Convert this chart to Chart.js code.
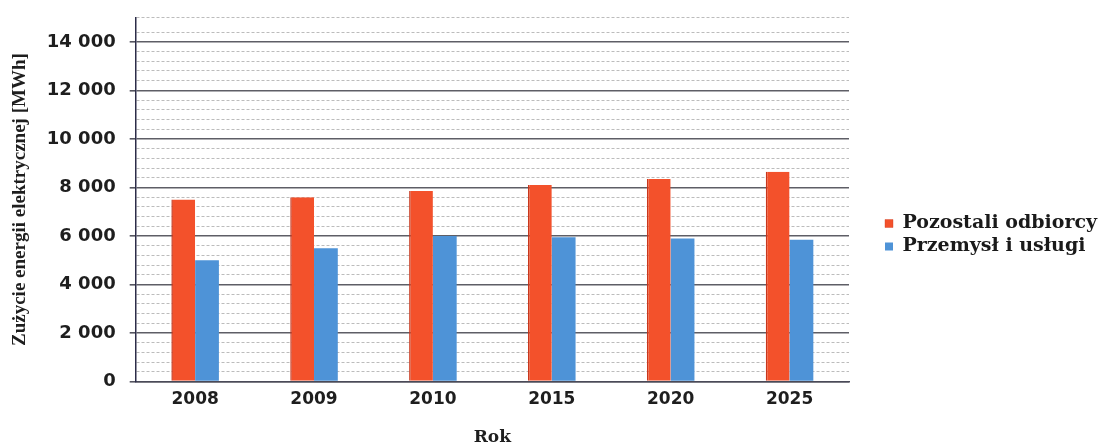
<!DOCTYPE html>
<html>
<head>
<meta charset="utf-8">
<script src="https://cdn.jsdelivr.net/npm/chart.js@4.4.1/dist/chart.umd.min.js"></script>
<style>
  html, body { margin: 0; padding: 0; background: #ffffff; }
  #wrap { width: 1100px; height: 446px; position: relative; }
</style>
</head>
<body>
<div id="wrap"><canvas id="c" width="1100" height="446"></canvas></div>
<script>
const categories = ['2008', '2009', '2010', '2015', '2020', '2025'];
const pozostaliOdbiorcy = [7500, 7600, 7850, 8100, 8350, 8650];
const przemyslIUslugi = [5000, 5500, 6000, 5950, 5900, 5850];
const seriesNames = ['Pozostali odbiorcy', 'Przemysł i usługi'];
const yMin = 0;
const yMax = 15000;
const yMinorStep = 400;
const yLabelStep = 2000;
const yTitle = 'Zużycie energii elektrycznej [MWh]';
const xTitle = 'Rok';

function fmt(v) {
  return String(v).replace(/\B(?=(\d{3})+(?!\d))/g, ' ');
}
function isMajor(v) { return v % yLabelStep === 0; }

function draw() {
  new Chart(document.getElementById('c'), {
    type: 'bar',
    data: {
      labels: categories,
      datasets: [
        { label: seriesNames[0], data: pozostaliOdbiorcy, backgroundColor: '#f3512b', borderColor: '#c8361c', borderWidth: {left: 1.5, right: 0, top: 0, bottom: 0}, borderSkipped: false },
        { label: seriesNames[1], data: przemyslIUslugi, backgroundColor: '#4e93d7', borderWidth: 0 }
      ]
    },
    options: {
      responsive: false,
      animation: false,
      devicePixelRatio: 1,
      layout: { padding: { left: 0, right: -7, top: -7, bottom: 0 } },
      datasets: { bar: { categoryPercentage: 0.4, barPercentage: 1.0 } },
      plugins: {
        legend: {
          position: 'right',
          maxWidth: 400,
          title: { display: true, text: ' ', color: 'rgba(0,0,0,0)', font: { size: 31, lineHeight: 1 }, padding: 0 },
          labels: {
            boxWidth: 8, boxHeight: 8, padding: 4,
            color: '#1a1a1a',
            font: { family: 'DejaVu Serif', weight: 'bold', size: 19 }
          }
        },
        tooltip: { enabled: false }
      },
      scales: {
        x: {
          grid: { display: false, drawTicks: false },
          border: { display: true, color: '#4a4a58', width: 1.5 },
          ticks: { color: '#1e1e1e', padding: 8, font: { family: 'DejaVu Sans', weight: 'bold', size: 17, lineHeight: 1.2 } },
          title: { display: true, text: xTitle, color: '#1e1e1e', font: { family: 'DejaVu Serif', weight: 'bold', size: 17, lineHeight: 1 }, padding: { top: 11, bottom: 0 } }
        },
        y: {
          min: yMin, max: yMax,
          grid: {
            color: ctx => isMajor(ctx.tick.value) ? '#5e5e66' : '#bcbcbc',
            lineWidth: ctx => isMajor(ctx.tick.value) ? 1.6 : 1,
            tickColor: ctx => isMajor(ctx.tick.value) ? '#555560' : 'rgba(0,0,0,0)',
            tickLength: 6
          },
          border: {
            display: true, color: '#2c2c48', width: 1.5,
            dash: ctx => (ctx.tick && !isMajor(ctx.tick.value)) ? [3, 2] : []
          },
          ticks: {
            stepSize: yMinorStep,
            autoSkip: false,
            padding: 14,
            color: '#1e1e1e',
            font: { family: 'DejaVu Sans', weight: 'bold', size: 18, lineHeight: 0.4 },
            callback: v => isMajor(v) ? fmt(v) : ''
          },
          title: { display: true, text: yTitle, color: '#1e1e1e', font: { family: 'Liberation Serif', weight: 'bold', size: 19 }, padding: { top: 9, bottom: 1 } }
        },
        ySpace: {
          type: 'linear', position: 'right', display: true,
          grid: { display: false, drawTicks: false },
          border: { display: false },
          ticks: { display: false },
          afterFit: s => { s.width = 32; }
        }
      }
    }
  });
}

const fontLoads = [
  'bold 19px "DejaVu Serif"',
  'bold 17px "DejaVu Sans"',
  'bold 19px "Liberation Serif"'
].map(f => document.fonts.load(f, 'Pozostali odbiorcy Przemysł 2008 Zużycie').catch(() => null));
Promise.all(fontLoads).then(draw, draw);
</script>
</body>
</html>
